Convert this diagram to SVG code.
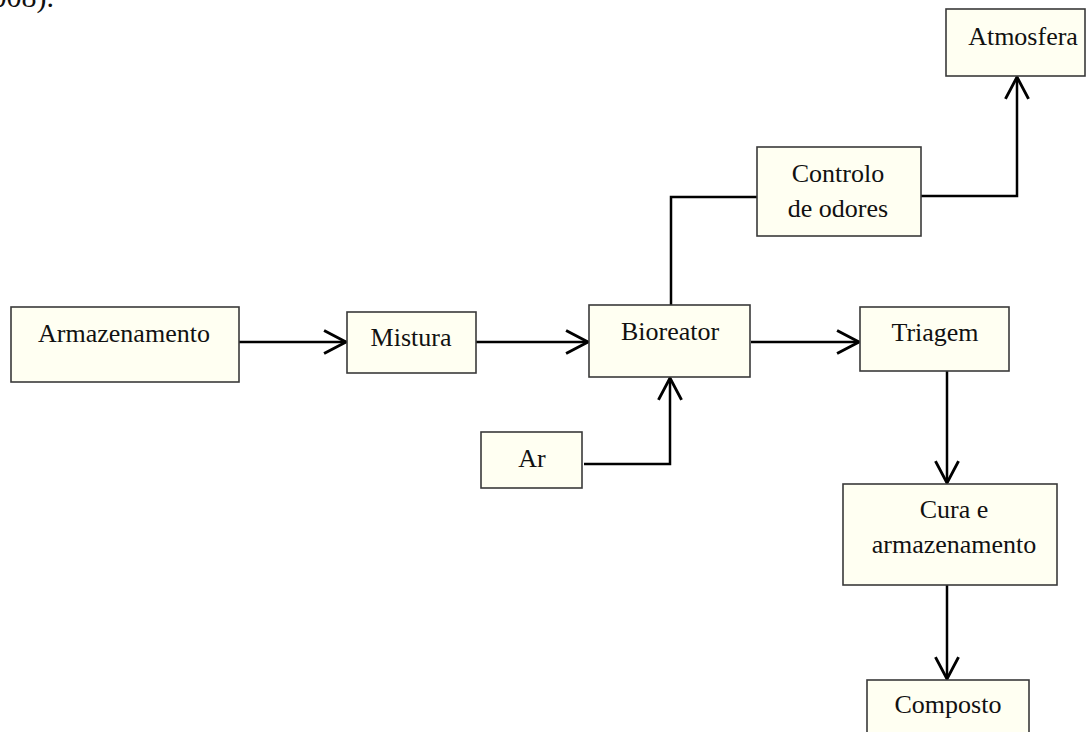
<svg xmlns="http://www.w3.org/2000/svg" width="1089" height="732" viewBox="0 0 1089 732">
<style>
.box{fill:#fffff2;stroke:#3a3a3a;stroke-width:1.6}
.t{font-family:"Liberation Serif","Times New Roman",serif;font-size:26px;fill:#111;text-anchor:middle}
.c{fill:none;stroke:#000;stroke-width:2.5}
</style>
<defs>
<marker id="ah" markerUnits="userSpaceOnUse" markerWidth="30" markerHeight="30" viewBox="-22 -13 26 26" refX="0" refY="0" orient="auto">
<path d="M-19,-10 L0,0 L-19,10" fill="none" stroke="#000" stroke-width="2.5"/>
</marker>
</defs>
<rect width="1089" height="732" fill="#fff"/>
<text x="54" y="7" font-family="Liberation Serif,serif" font-size="30" text-anchor="end" fill="#111">008).</text>
<g id="connectors">
<path class="c" d="M239,342 H346" marker-end="url(#ah)"/>
<path class="c" d="M476,342 H588" marker-end="url(#ah)"/>
<path class="c" d="M751,342 H859" marker-end="url(#ah)"/>
<path class="c" d="M584,464 H670 V378" marker-end="url(#ah)"/>
<path class="c" d="M671,305 V197 H757"/>
<path class="c" d="M921,196 H1017 V77" marker-end="url(#ah)"/>
<path class="c" d="M947,371 V483" marker-end="url(#ah)"/>
<path class="c" d="M947,585 V679" marker-end="url(#ah)"/>
</g>
<g id="armazenamento"><rect class="box" x="11" y="307" width="228" height="75"/><text class="t" x="124" y="342">Armazenamento</text></g>
<g id="mistura"><rect class="box" x="347" y="312" width="129" height="61"/><text class="t" x="411" y="346">Mistura</text></g>
<g id="bioreator"><rect class="box" x="589" y="305" width="161" height="72"/><text class="t" x="670" y="340">Bioreator</text></g>
<g id="triagem"><rect class="box" x="860" y="307" width="149" height="64"/><text class="t" x="935" y="341">Triagem</text></g>
<g id="ar"><rect class="box" x="481" y="432" width="101" height="56"/><text class="t" x="532" y="467">Ar</text></g>
<g id="controlo"><rect class="box" x="757" y="147" width="164" height="89"/><text class="t" x="838" y="182">Controlo</text><text class="t" x="838" y="217">de odores</text></g>
<g id="atmosfera"><rect class="box" x="946" y="9" width="139" height="67"/><text class="t" x="1023" y="45">Atmosfera</text></g>
<g id="cura"><rect class="box" x="843" y="484" width="214" height="101"/><text class="t" x="954" y="518">Cura e</text><text class="t" x="954" y="553">armazenamento</text></g>
<g id="composto"><rect class="box" x="867" y="680" width="162" height="70"/><text class="t" x="948" y="713">Composto</text></g>
</svg>
